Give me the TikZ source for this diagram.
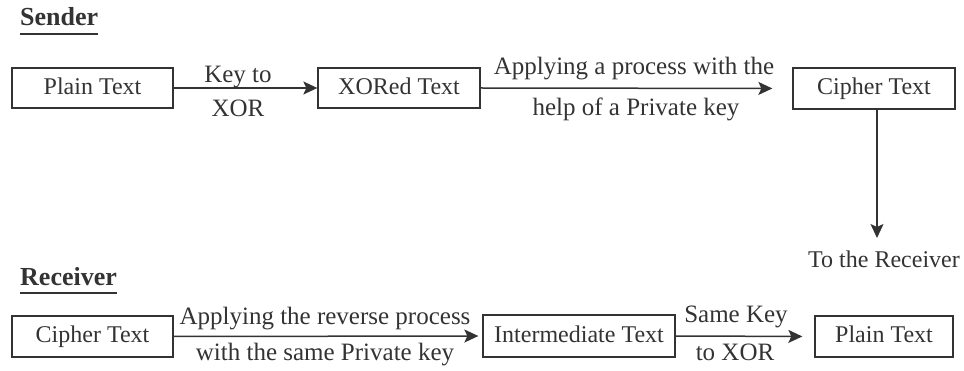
\documentclass[tikz,border=0pt]{standalone}
\usepackage{fontspec}
\setmainfont{Liberation Serif}
\usetikzlibrary{arrows.meta}
\definecolor{ink}{HTML}{333333}
\begin{document}
\begin{tikzpicture}[x=1pt,y=-1pt,
  font=\fontsize{24}{28}\selectfont,
  box/.style={draw=ink, line width=1.3pt, inner sep=0pt, text=ink, text height=15pt, text depth=2pt},
  lbl/.style={anchor=base, text=ink, inner sep=0pt, font=\fontsize{25}{29}\selectfont},
  hdr/.style={anchor=base west, text=ink, inner sep=0pt, font=\fontsize{26}{30}\selectfont\bfseries},
  arr/.style={draw=ink, line width=1.5pt, -{Stealth[length=14pt,width=13pt,inset=3pt]}}]
\useasboundingbox (0,0) rectangle (964,371);
% headers
\node[hdr] (snd) at (20,26) {Sender};
\draw[ink, line width=1.3pt] ([yshift=-8pt]snd.base west) -- ([yshift=-8pt]snd.base east);
\node[hdr] (rcv) at (20,286) {Receiver};
\draw[ink, line width=1.3pt] ([yshift=-7pt]rcv.base west) -- ([yshift=-7pt]rcv.base east);
% sender row
\node[box, minimum width=161pt, minimum height=40pt] (pt1) at (92.5,88) {Plain Text};
\node[box, minimum width=162pt, minimum height=40pt] (xt) at (399,88) {XORed Text};
\node[box, minimum width=162pt, minimum height=41pt] (ct1) at (874,88.5) {Cipher Text};
\draw[arr] (pt1.east) -- (xt.west);
\draw[arr, shorten >=20pt] (xt.east) -- (ct1.west);
\node[lbl] (k1) at (238,83) {Key to};
\node[lbl] (k2) at (238,117) {XOR};
\node[lbl] (a1) at (634,75) {Applying a process with the};
\node[lbl] (a2) at (636,116) {help of a Private key};
\coordinate (down) at (877,238);
\draw[arr] (ct1.south -| down) -- (down);
\node[lbl, font=\fontsize{24}{28}\selectfont] (tr) at (884,268) {To the Receiver};
% receiver row
\node[box, minimum width=161pt, minimum height=41pt] (ct2) at (92.5,336.5) {Cipher Text};
\node[box, minimum width=192pt, minimum height=42pt] (it) at (579,336) {Intermediate Text};
\node[box, minimum width=138pt, minimum height=41pt] (pt2) at (884,336.5) {Plain Text};
\draw[arr, shorten >=4pt] (ct2.east) -- (it.west);
\draw[arr, shorten >=12pt] (it.east) -- (pt2.west);
\node[lbl] (r1) at (325,325) {Applying the reverse process};
\node[lbl] (r2) at (325,360) {with the same Private key};
\node[lbl] (s1) at (736,323) {Same Key};
\node[lbl] (s2) at (735,360) {to XOR};
\end{tikzpicture}
\end{document}
